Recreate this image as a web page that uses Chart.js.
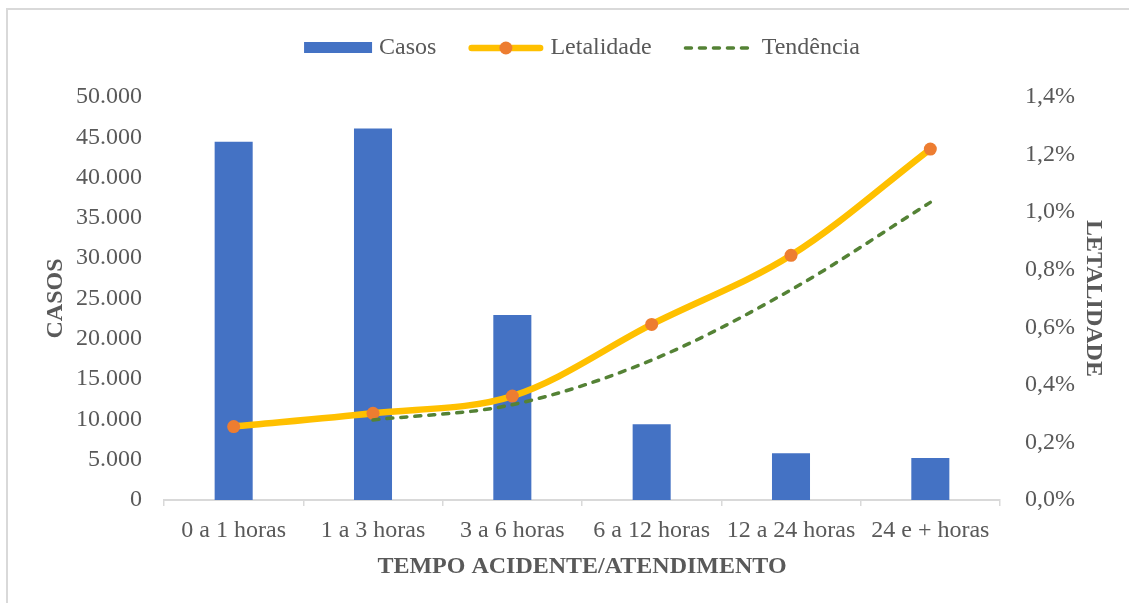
<!DOCTYPE html>
<html lang="pt-BR">
<head>
<meta charset="utf-8">
<title>Casos e letalidade por tempo entre acidente e atendimento</title>
<script src="https://cdn.jsdelivr.net/npm/chart.js@4.4.1/dist/chart.umd.min.js"></script>
<style>
  html, body { margin: 0; padding: 0; background: #ffffff; overflow: hidden; }
  #wrap { position: relative; width: 1129px; height: 603px; }
  #frame {
    position: absolute; left: 6px; top: 8px; width: 1200px; height: 700px;
    border-top: 2px solid #d9d9d9; border-left: 2px solid #d9d9d9;
    pointer-events: none;
  }
  canvas { position: absolute; left: 0; top: 0; }
</style>
</head>
<body>
<div id="wrap">
  <canvas id="chart" width="1129" height="603"></canvas>
  <div id="frame"></div>
</div>
<script>
// Faixas de tempo entre o acidente e o atendimento
const categorias = ['0 a 1 horas', '1 a 3 horas', '3 a 6 horas', '6 a 12 horas', '12 a 24 horas', '24 e + horas'];
// Número de casos por faixa
const casos = [44450, 46100, 22950, 9390, 5790, 5210];
// Letalidade (%) por faixa
const letalidade = [0.255, 0.301, 0.361, 0.610, 0.850, 1.219];
// Linha de tendência da letalidade (%)
const tendencia = [null, 0.278, 0.331, 0.486, 0.730, 1.034];
// Rótulos das séries
const nomesSeries = ['Casos', 'Letalidade', 'Tendência'];

const TEXTO = '#595959';
const FONTE = '"Liberation Serif", "Times New Roman", serif';

function milhar(v) {
  return String(Math.round(v)).replace(/\B(?=(\d{3})+(?!\d))/g, '.');
}
function porcento(v) {
  return v.toFixed(1).replace('.', ',') + '%';
}

// Legenda desenhada no topo, com amostras de cada série
const legendaTopo = {
  id: 'legendaTopo',
  afterDraw(chart) {
    const ctx = chart.ctx;
    const ds = chart.data.datasets;
    const area = chart.chartArea;
    const y = 47;
    ctx.save();
    ctx.font = '24px ' + FONTE;
    ctx.textBaseline = 'middle';
    ctx.fillStyle = TEXTO;
    const amostras = [68, 75, 71];
    const gapTexto = 7, gapItem = 32;
    const larguras = ds.map((d, i) => amostras[i] + gapTexto + ctx.measureText(d.label).width);
    const total = larguras.reduce((a, b) => a + b, 0) + gapItem * (ds.length - 1);
    let x = (area.left + area.right) / 2 - total / 2;
    ds.forEach((d, i) => {
      const w = amostras[i];
      if (i === 0) {
        ctx.fillStyle = d.backgroundColor;
        ctx.fillRect(x, y - 5, w, 11);
      } else {
        ctx.strokeStyle = d.borderColor;
        ctx.lineWidth = d.borderWidth;
        ctx.lineCap = 'round';
        ctx.setLineDash(d.borderDash || []);
        ctx.beginPath();
        ctx.moveTo(x + d.borderWidth / 2, y + 1);
        ctx.lineTo(x + w - d.borderWidth / 2, y + 1);
        ctx.stroke();
        ctx.setLineDash([]);
        if (d.pointRadius > 0) {
          ctx.fillStyle = d.pointBackgroundColor;
          ctx.beginPath();
          ctx.arc(x + w / 2, y + 1, d.pointRadius, 0, Math.PI * 2);
          ctx.fill();
        }
      }
      ctx.fillStyle = TEXTO;
      ctx.textAlign = 'left';
      ctx.fillText(d.label, x + w + gapTexto, y + 1);
      x += larguras[i] + gapItem;
    });
    ctx.restore();
  }
};

new Chart(document.getElementById('chart'), {
  data: {
    labels: categorias,
    datasets: [
      {
        type: 'bar',
        label: nomesSeries[0],
        data: casos,
        yAxisID: 'y',
        backgroundColor: '#4472C4',
        borderWidth: 0,
        categoryPercentage: 1,
        barPercentage: 0.273,
        order: 3
      },
      {
        type: 'line',
        label: nomesSeries[1],
        data: letalidade,
        yAxisID: 'y1',
        borderColor: '#FFC000',
        borderWidth: 6.5,
        borderCapStyle: 'round',
        borderJoinStyle: 'round',
        tension: 0.33,
        fill: false,
        pointRadius: 6.5,
        pointBackgroundColor: '#ED7D31',
        pointBorderColor: '#ED7D31',
        pointBorderWidth: 0,
        order: 2
      },
      {
        type: 'line',
        label: nomesSeries[2],
        data: tendencia,
        yAxisID: 'y1',
        borderColor: '#548235',
        borderWidth: 3.5,
        borderDash: [6, 8],
        borderCapStyle: 'round',
        tension: 0.33,
        fill: false,
        pointRadius: 0,
        order: 1
      }
    ]
  },
  options: {
    responsive: false,
    animation: false,
    devicePixelRatio: 1,
    layout: { padding: { top: 97, left: 0, right: 0, bottom: 0 } },
    plugins: {
      legend: { display: false },
      tooltip: { enabled: false }
    },
    scales: {
      x: {
        offset: true,
        grid: {
          display: true,
          drawOnChartArea: false,
          drawTicks: true,
          tickLength: 6,
          color: '#d9d9d9',
          lineWidth: 1.5,
          offset: true
        },
        border: { display: true, color: '#d9d9d9', width: 2 },
        ticks: {
          color: TEXTO,
          font: { family: FONTE, size: 24 },
          padding: 10,
          maxRotation: 0,
          autoSkip: false
        },
        title: {
          display: true,
          text: 'TEMPO ACIDENTE/ATENDIMENTO',
          color: TEXTO,
          font: { family: FONTE, size: 24, weight: 'bold' },
          padding: { top: 0, bottom: 22 }
        },
        afterFit(scale) { scale.height = 103; }
      },
      y: {
        position: 'left',
        min: 0,
        max: 50000,
        grid: { display: false },
        border: { display: false },
        ticks: {
          stepSize: 5000,
          color: TEXTO,
          font: { family: FONTE, size: 24 },
          padding: 14,
          callback: (v) => milhar(v)
        },
        title: {
          display: true,
          text: 'CASOS',
          color: TEXTO,
          font: { family: FONTE, size: 24, weight: 'bold' },
          padding: { top: 41, bottom: 0 }
        },
        afterFit(scale) { scale.width = 164; }
      },
      y1: {
        position: 'right',
        min: 0,
        max: 1.4,
        grid: { display: false },
        border: { display: false },
        ticks: {
          stepSize: 0.2,
          color: TEXTO,
          font: { family: FONTE, size: 24 },
          padding: 17,
          callback: (v) => porcento(v)
        },
        title: {
          display: true,
          text: 'LETALIDADE',
          color: TEXTO,
          font: { family: FONTE, size: 24, weight: 'bold' },
          padding: { top: 21, bottom: 0 }
        },
        afterFit(scale) { scale.width = 129; }
      }
    }
  },
  plugins: [legendaTopo]
});
</script>
</body>
</html>
